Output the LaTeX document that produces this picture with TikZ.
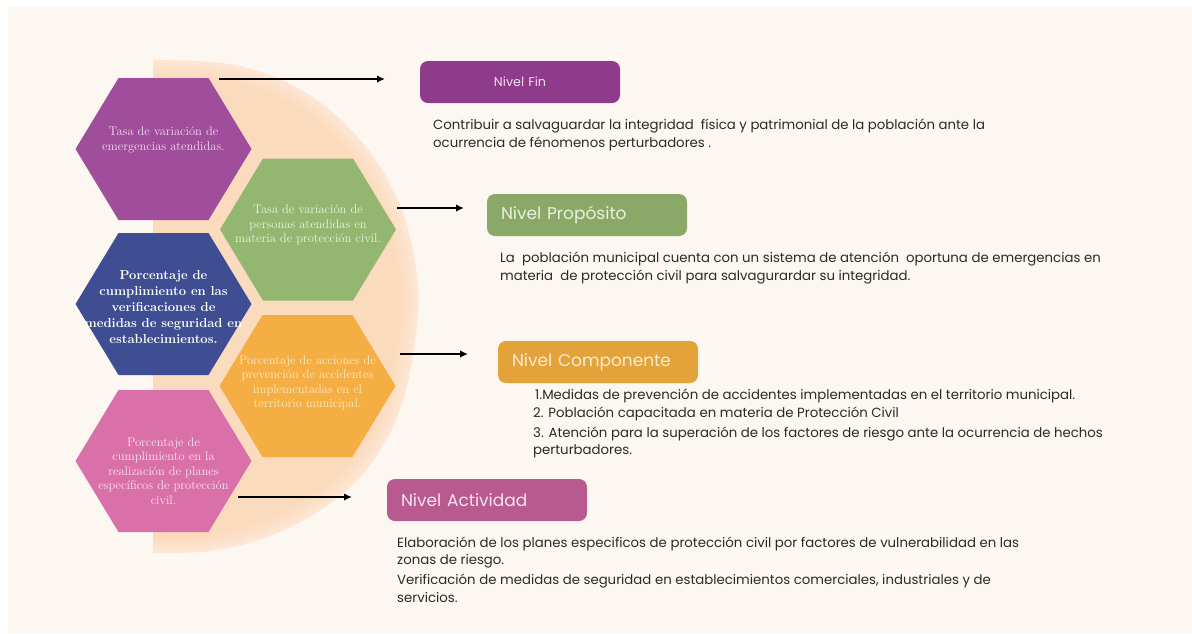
\documentclass[tikz,border=0pt]{standalone}
\usepackage{fontspec}
\newfontfamily\pop{Poppins}
\usetikzlibrary{arrows.meta,calc}
\definecolor{cream}{HTML}{FDF7F1}
\definecolor{peachL}{HTML}{FDE7D4}
\definecolor{peachD}{HTML}{FBDBBD}
\definecolor{hexpurple}{HTML}{A04D9B}
\definecolor{hexgreen}{HTML}{93B770}
\definecolor{hexnavy}{HTML}{3F4E93}
\definecolor{hexorange}{HTML}{F5AE44}
\definecolor{hexpink}{HTML}{DA70A9}
\definecolor{boxpurple}{HTML}{8E3B8B}
\definecolor{boxgreen}{HTML}{8AA968}
\definecolor{boxorange}{HTML}{E3A23A}
\definecolor{boxpink}{HTML}{B85A8F}
\definecolor{txt}{HTML}{2A2A2A}
\definecolor{tpurple}{HTML}{F3DDEE}
\definecolor{tgreen}{HTML}{EEF3DF}
\definecolor{torange}{HTML}{FDEBC8}
\definecolor{tpink}{HTML}{FAE6F0}
\definecolor{lfin}{HTML}{F3DDF0}
\definecolor{lprop}{HTML}{EAF1DC}
\definecolor{lcomp}{HTML}{FDECCF}
\definecolor{lact}{HTML}{F8E4EF}
\newcommand{\hexfill}[3]{\fill[#3] (#1-88,#2) -- (#1-45,#2-71) -- (#1+45,#2-71) -- (#1+88,#2) -- (#1+45,#2+71) -- (#1-45,#2+71) -- cycle;}
\newcommand{\peachpath}{plot[smooth,tension=0.6] coordinates {(153,60) (235,65) (305,92) (362,142) (400,205) (417,275) (416,335) (400,410) (368,468) (325,507) (270,536) (210,551) (153,553)} -- cycle}
\begin{document}
\begin{tikzpicture}[x=1pt,y=-1pt,
  hextext/.style={align=center,inner sep=0pt,font=\fontsize{12.5}{14.5}\selectfont},
  lvl/.style={rounded corners=8pt,minimum height=42pt,minimum width=200pt,inner xsep=14pt,text width=172pt,align=left,font=\pop\fontsize{17}{20}\selectfont},
  desc/.style={anchor=base west,inner sep=0pt,align=left,text=txt,font=\pop\fontsize{13.3}{18}\selectfont},
  arr/.style={line width=2pt,-{Latex[length=8pt,width=7.5pt]}}]
\useasboundingbox (0,0) rectangle (1192,633);
\fill[white] (0,0) rectangle (1192,633);
\fill[cream] (8,7) rectangle (1192,633);
% peach half disk with soft edge
\foreach \i in {0,...,8}{
  \pgfmathsetmacro\s{1-0.008*\i}
  \pgfmathsetmacro\c{100-\i*100/8}
  \begin{scope}[shift={(153,306.5)},scale=\s,shift={(-153,-306.5)}]
    \fill[peachL!\c!peachD] \peachpath;
  \end{scope}
}
% hexagons
\hexfill{163.5}{149}{hexpurple}
\hexfill{308}{229.5}{hexgreen}
\hexfill{163.5}{304}{hexnavy}
\hexfill{307.5}{386}{hexorange}
\hexfill{163.5}{461}{hexpink}
\node[hextext,text=tpurple] (h1) at (163.5,140) {Tasa de variación de\\emergencias atendidas.};
\node[hextext,text=tgreen] (h2) at (308,225) {Tasa de variación de\\personas atendidas en\\materia de protección civil.};
\node[hextext,text=white,font=\bfseries\fontsize{13}{16}\selectfont] (h3) at (163.5,307) {Porcentaje de\\cumplimiento en las\\verificaciones de\\medidas de seguridad en\\establecimientos.};
\node[hextext,text=torange] (h4) at (307.5,383) {Porcentaje de acciones de\\prevención de accidentes\\implementadas en el\\territorio municipal.};
\node[hextext,text=tpink] (h5) at (163.5,471) {Porcentaje de\\cumplimiento en la\\realización de planes\\específicos de protección\\civil.};
% level boxes
\node[lvl,fill=boxpurple,text=lfin,align=center,font=\pop\fontsize{12.7}{14}\selectfont] (fin) at (520,82) {Nivel Fin};
\node[lvl,fill=boxgreen,text=lprop] (prop) at (587,215) {Nivel Propósito};
\node[lvl,fill=boxorange,text=lcomp] (comp) at (598,362) {Nivel Componente};
\node[lvl,fill=boxpink,text=lact] (act) at (487,500) {Nivel Actividad};
% arrows
\coordinate (a1s) at (219,79); \coordinate (a1e) at (385,79);
\coordinate (a2s) at (397,208); \coordinate (a2e) at (464,208);
\coordinate (a3s) at (400,354); \coordinate (a3e) at (468,354);
\coordinate (a4s) at (238,497); \coordinate (a4e) at (352,497);
\draw[arr] (a1s) -- (a1e);
\draw[arr] (a2s) -- (a2e);
\draw[arr] (a3s) -- (a3e);
\draw[arr] (a4s) -- (a4e);
% descriptions (anchor = baseline of last line)
\node[desc] (d1) at (433,147.5) {Contribuir a salvaguardar la integridad\ \ física y patrimonial de la población ante la\\ocurrencia de fénomenos perturbadores .};
\node[desc] (d2) at (500,280.5) {La\ \ población municipal cuenta con un sistema de atención\ \ oportuna de emergencias en\\materia\ \ de protección civil para salvagurardar su integridad.};
\node[desc] (d3a) at (535,399.5) {1.Medidas de prevención de accidentes implementadas en el territorio municipal.};
\node[desc] (d3b) at (533,417.5) {2. Población capacitada en materia de Protección Civil};
\node[desc,font=\pop\fontsize{13.3}{17.5}\selectfont] (d3c) at (533,454.5) {3. Atención para la superación de los factores de riesgo ante la ocurrencia de hechos\\perturbadores.};
\node[desc,font=\pop\fontsize{13.3}{17}\selectfont] (d4a) at (397,564.5) {Elaboración de los planes especificos de protección civil por factores de vulnerabilidad en las\\zonas de riesgo.};
\node[desc] (d4b) at (397,602.5) {Verificación de medidas de seguridad en establecimientos comerciales, industriales y de\\servicios.};
\end{tikzpicture}
\end{document}
